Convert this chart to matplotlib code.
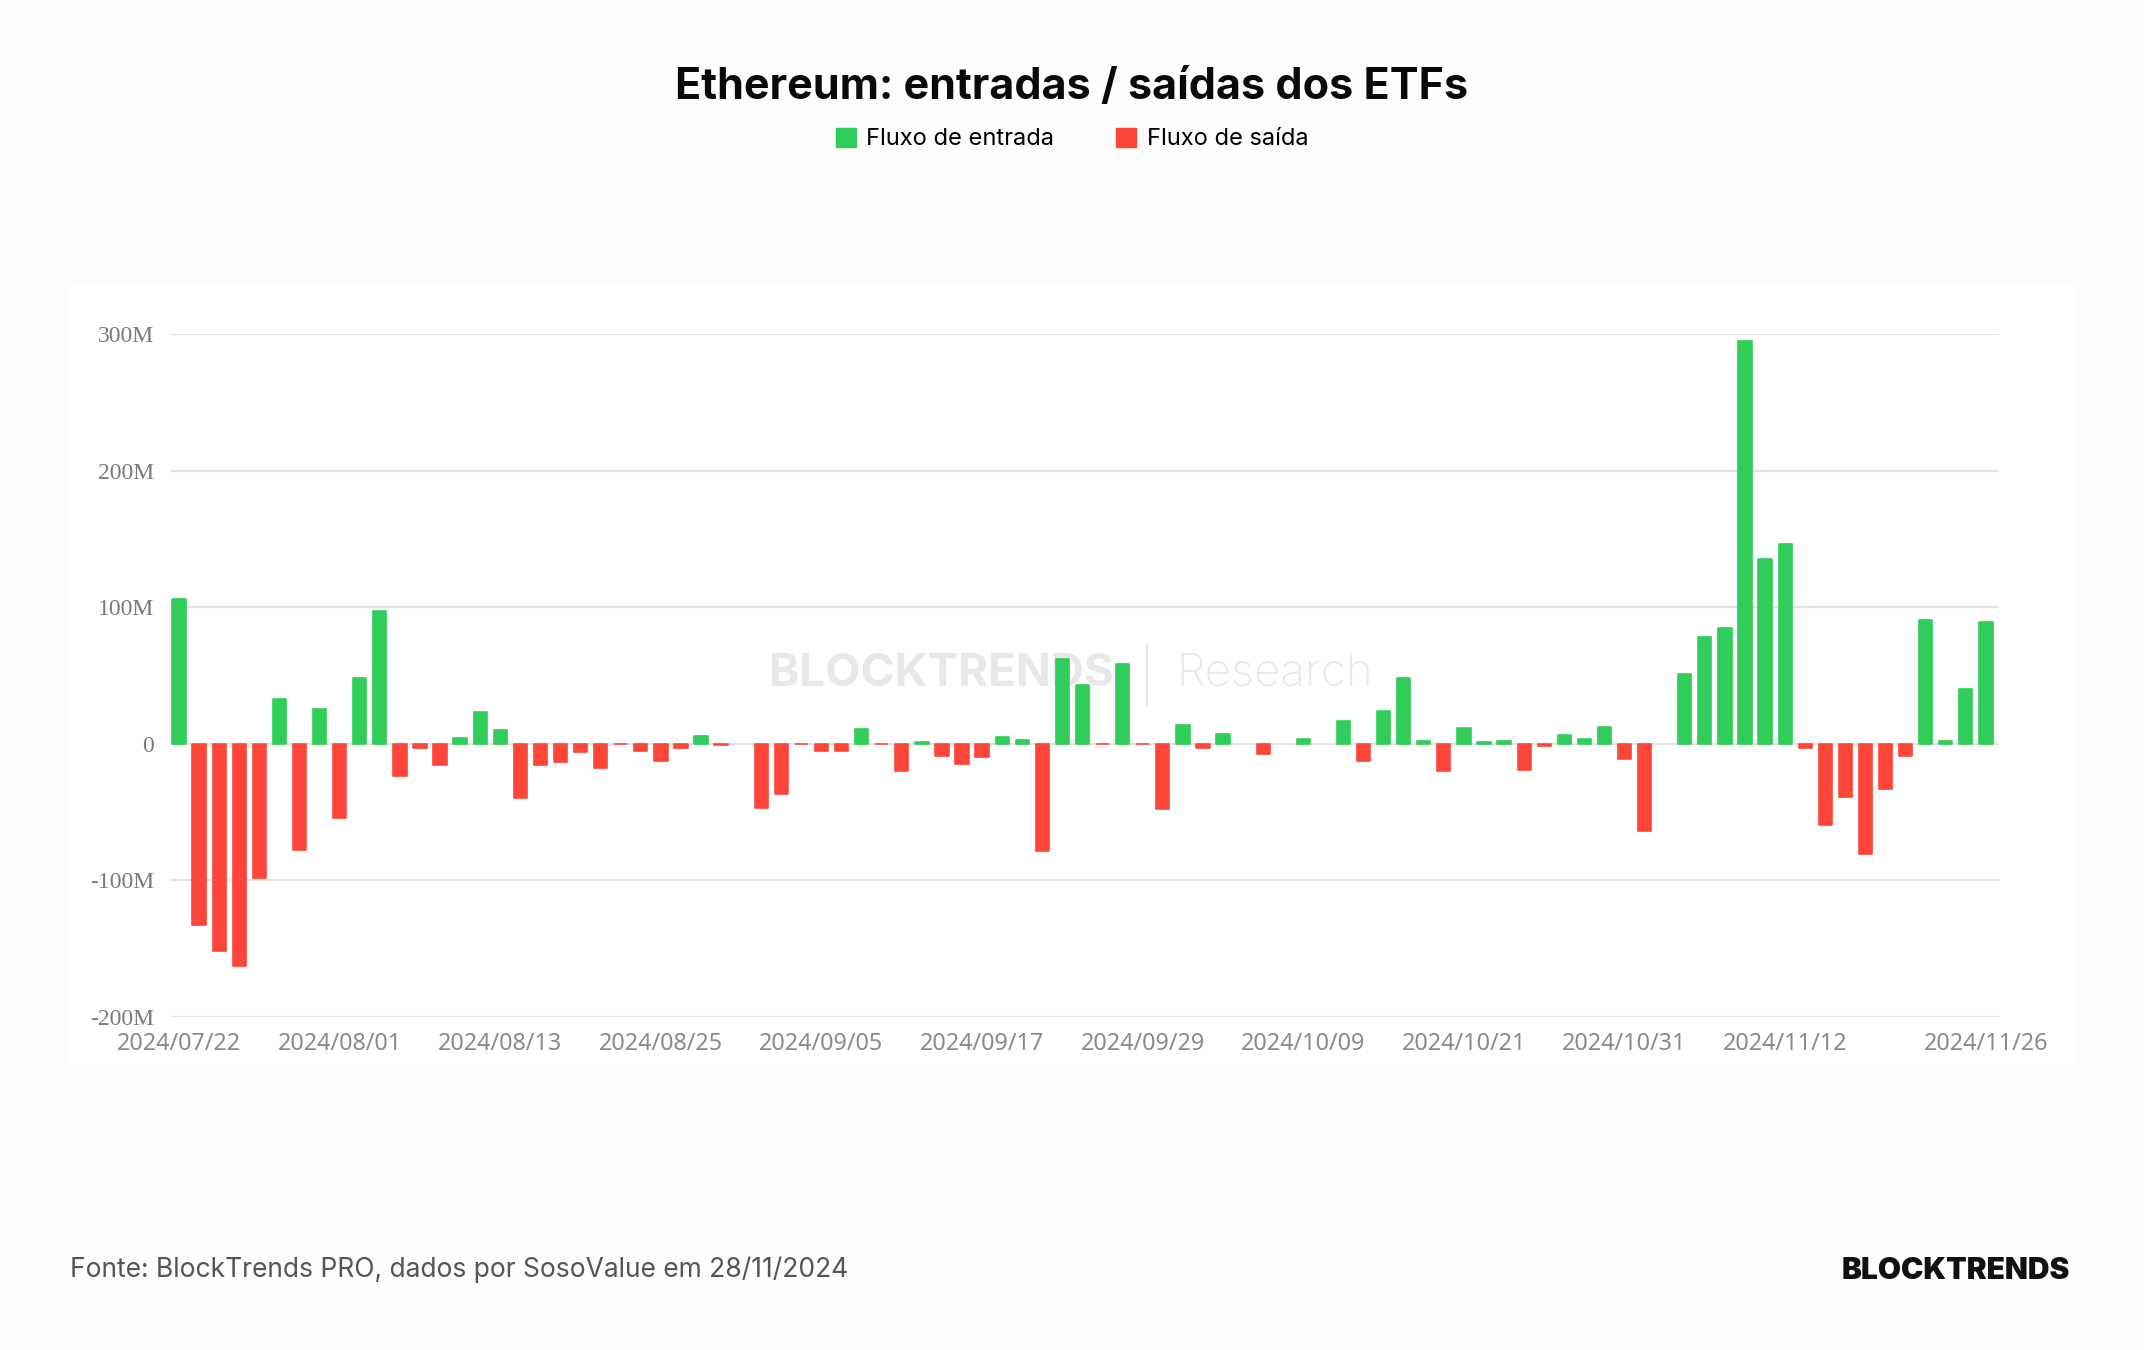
import matplotlib
matplotlib.use('Agg')
import matplotlib.pyplot as plt
from matplotlib.patches import Patch, Rectangle
from matplotlib.lines import Line2D

# daily net flows, millions USD
flows = [106, -133, -152, -163, -98.6, 32.6, -77.7, 25.5, -54.6, 48.2,
         97.5, -23.8, -3.2, -15.6, 3.9, 23.4, 9.9, -39.4, -15.2, -13.5,
         -6.1, -17.5, -0.5, -5.6, -12.9, -2.9, 5.8, -1.2, 0, -47,
         -37, -0.3, -5.6, -5.1, 11.2, -0.5, -20, 1.2, -9, -14.6,
         -9.5, 4.9, 2.9, -78.6, 62, 43, -0.3, 58.4, -0.3, -47.9,
         14.1, -2.9, 7.5, 0, -7.8, 0, 3.2, 0, 16.8, -12.4,
         23.8, 48.2, 1.9, -20.2, 11.5, 1, 1.9, -19, -1.9, 6.7,
         3.5, 12, -10.8, -63.5, 0, 51, 78.4, 85, 294.6, 135,
         146.3, -3.4, -59.5, -39, -81, -33.4, -9, 90.5, 2.4, 40.2,
         89.3]
label_pos = [0, 8, 16, 24, 32, 40, 48, 56, 64, 72, 80, 90]
label_txt = ['2024/07/22', '2024/08/01', '2024/08/13', '2024/08/25',
             '2024/09/05', '2024/09/17', '2024/09/29', '2024/10/09',
             '2024/10/21', '2024/10/31', '2024/11/12', '2024/11/26']
yticks = [-200, -100, 0, 100, 200, 300]
ytick_txt = ['-200M', '-100M', '0', '100M', '200M', '300M']

GREEN = '#30cd5a'
RED = '#fe4539'

fig = plt.figure(figsize=(21.44, 13.5), dpi=100, facecolor='#fdfdfc')

# white chart panel
fig.patches.append(Rectangle((68 / 2144, 1 - 1064 / 1350), (2075 - 68) / 2144, (1064 - 284) / 1350,
                             transform=fig.transFigure, facecolor='white', edgecolor='none', zorder=0))

# watermark
fig.text(1114 / 2144, 1 - 674 / 1350, 'BLOCKTRENDS', ha='right', va='center', fontsize=33,
         fontweight='bold', family='Inter', color='#e8e8e8', zorder=1)
fig.add_artist(Line2D([1147 / 2144, 1147 / 2144], [1 - 645 / 1350, 1 - 705 / 1350],
                      color='#e8e8e8', lw=1.5, zorder=1))
fig.text(1176 / 2144, 1 - 674 / 1350, 'Research', ha='left', va='center', fontsize=33,
         family='Inter', fontweight='light', color='#e8e8e8', zorder=1)

ax = fig.add_axes([171 / 2144, 1 - 1017 / 1350, (1999 - 171) / 2144, (1017 - 334) / 1350])
ax.set_zorder(2)
ax.set_facecolor('none')

x = list(range(len(flows)))
colors = [GREEN if v >= 0 else RED for v in flows]
widths = [1.2 if v != 0 else 0 for v in flows]
ax.bar(x, flows, width=0.66, color=colors, edgecolor=colors, linewidth=widths,
       joinstyle='round', zorder=3)

ax.set_xlim(-0.4, len(flows) - 1 + 0.65)
ax.set_ylim(-200, 300)
ax.set_yticks(yticks)
ax.set_yticklabels(ytick_txt, family='Liberation Serif', fontsize=17, color='#7a7a7a')
ax.set_xticks(label_pos)
ax.set_xticklabels(label_txt, family='Noto Sans', fontsize=16.8, color='#8a8a8a')
ax.tick_params(axis='both', length=0)
ax.tick_params(axis='y', pad=12)
ax.tick_params(axis='x', pad=11)
ax.grid(axis='y', color='#e2e2e2', lw=1.5, zorder=0)
for s in ax.spines.values():
    s.set_visible(False)

fig.text(0.5, 1 - 87 / 1350, 'Ethereum: entradas / saídas dos ETFs', ha='center', va='center',
         fontsize=31, fontweight='bold', family='Inter', color='#0a0a0a')

handles = [Patch(color=GREEN, label='Fluxo de entrada'), Patch(color=RED, label='Fluxo de saída')]
fig.legend(handles=handles, loc='center', bbox_to_anchor=(0.5, 1 - 139 / 1350), ncol=2,
           frameon=False, prop={'family': 'Inter', 'size': 17}, handlelength=0.85,
           handleheight=0.85, handletextpad=0.45, columnspacing=2.6)

fig.text(70 / 2144, 1 - 1270 / 1350, 'Fonte: BlockTrends PRO, dados por SosoValue em 28/11/2024',
         ha='left', va='center', fontsize=19, family='Inter', color='#555555')
fig.text(2070 / 2144, 1 - 1271 / 1350, 'BLOCKTRENDS', ha='right', va='center', fontsize=21.5,
         fontweight='black', family='Inter', color='#111111')

fig.savefig('out.png', dpi=100, facecolor=fig.get_facecolor())
